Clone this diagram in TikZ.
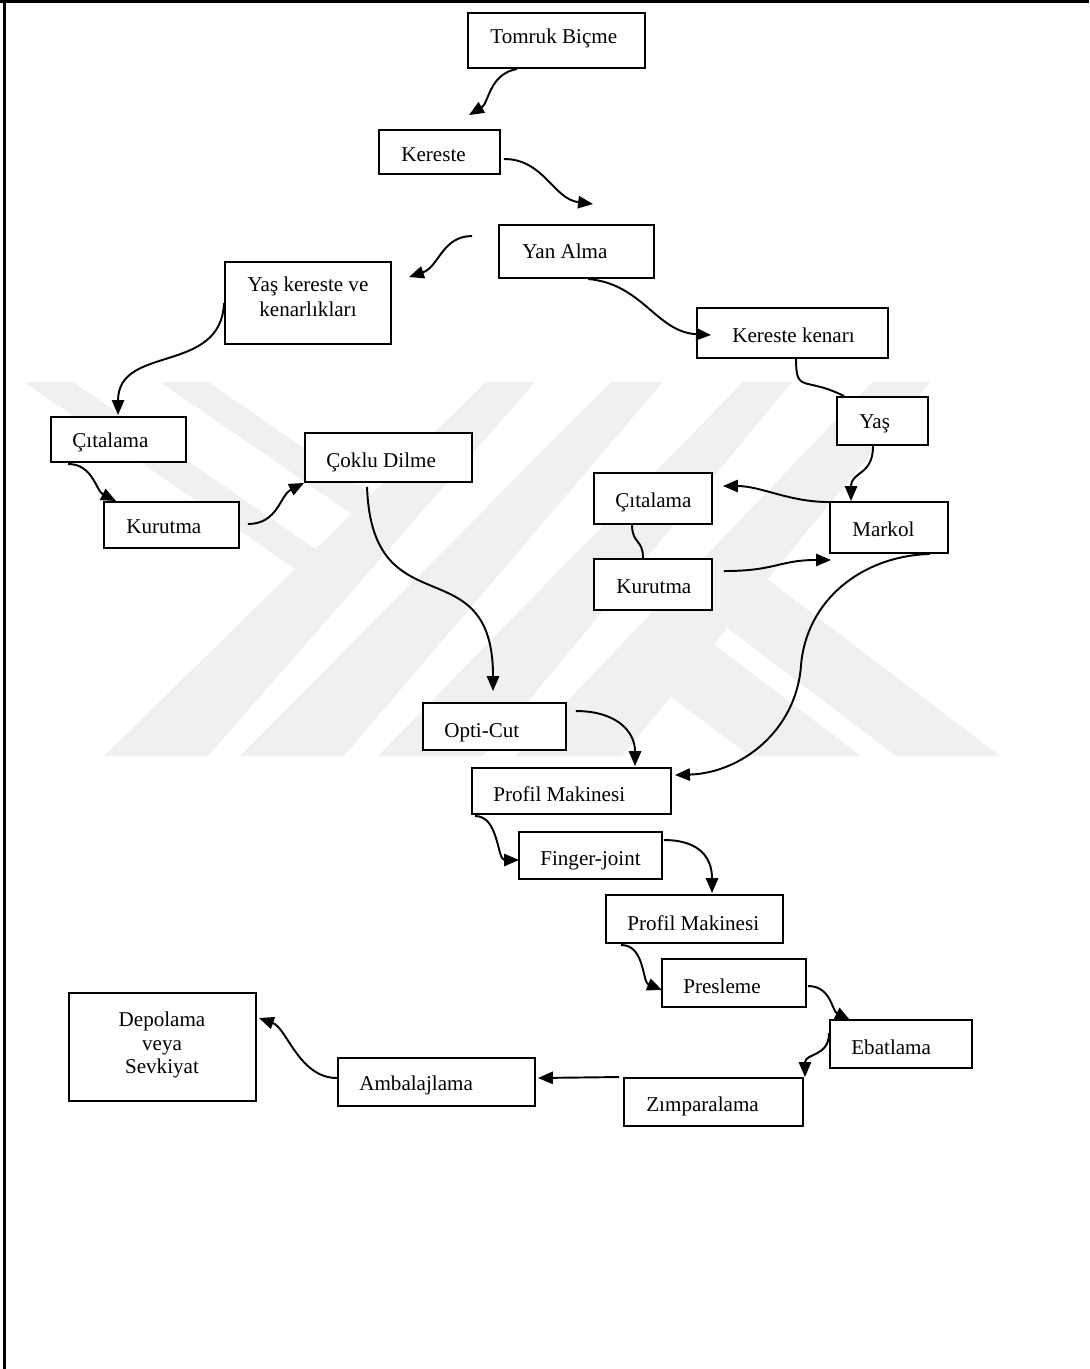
\documentclass[tikz,border=0pt]{standalone}
\usepackage{fontspec}
\setmainfont{Liberation Serif}
\usepackage{tikz}
\usetikzlibrary{calc}
\usetikzlibrary{fit}
\usetikzlibrary{arrows.meta}

\begin{document}
\begin{tikzpicture}[x=0.02cm,y=-0.02cm,
  box/.style={draw,line width=1.1pt,fill=white,inner sep=0pt},
  lbl/.style={anchor=base west,inner sep=0pt,font=\fontsize{12}{14}\selectfont},
  lblc/.style={align=center,inner sep=0pt,font=\fontsize{12}{14}\selectfont},
  arr/.style={line width=1.1pt,-{Triangle[length=8.5pt,width=7pt]}},
  link/.style={line width=1.1pt},
  wmark/.style={fill=black!6}]
\useasboundingbox (0,0) rectangle (1089,1369);

\fill[wmark] (486,382) -- (535,382) -- (208,756) -- (104,756) -- cycle;
\fill[wmark] (611,382) -- (663,382) -- (344,756) -- (240,756) -- cycle;
\fill[wmark] (743,382) -- (792,382) -- (483,756) -- (378,756) -- cycle;
\fill[wmark] (872,382) -- (930,382) -- (622,756) -- (515,756) -- cycle;
\fill[wmark] (24,382) -- (73,382) -- (356,577) -- (307,577) -- cycle;
\fill[wmark] (160,382) -- (208,382) -- (404,517) -- (356,517) -- cycle;
\fill[wmark] (896,756) -- (1000,756) -- (758,572) -- (713,617) -- cycle;
\fill[wmark] (750,756) -- (861,756) -- (704,637) -- (651,682) -- cycle;

\draw[line width=1.5pt] (0,1.3) -- (1089,1.3);
\draw[line width=1.7pt] (4.5,0) -- (4.5,1369);

\node[box,fit={(468,13) (645,68)}] (tomruk) {};
\node[box,fit={(379,130) (500,174)}] (kereste) {};
\node[box,fit={(499,225) (654,278)}] (yanalma) {};
\node[box,fit={(225,262) (391,344)}] (yaskereste) {};
\node[box,fit={(697,308) (888,358)}] (kenar) {};
\node[box,fit={(837,397) (928,445)}] (yas) {};
\node[box,fit={(51,417) (186,462)}] (citalamaL) {};
\node[box,fit={(104,502) (239,548)}] (kurutmaL) {};
\node[box,fit={(305,433) (472,482)}] (coklu) {};
\node[box,fit={(594,473) (712,524)}] (citalamaR) {};
\node[box,fit={(594,559) (712,610)}] (kurutmaR) {};
\node[box,fit={(830,502) (948,553)}] (markol) {};
\node[box,fit={(423,703) (566,750)}] (opticut) {};
\node[box,fit={(472,768) (671,814)}] (profil1) {};
\node[box,fit={(519,832) (662,879)}] (finger) {};
\node[box,fit={(606,895) (783,943)}] (profil2) {};
\node[box,fit={(662,959) (806,1007)}] (presleme) {};
\node[box,fit={(830,1020) (972,1068)}] (ebatlama) {};
\node[box,fit={(624,1078) (803,1126)}] (zimpara) {};
\node[box,fit={(338,1058) (535,1106)}] (ambalaj) {};
\node[box,fit={(69,993) (256,1101)}] (depolama) {};

\node[lbl] (tomrukT) at (490,43) {Tomruk Biçme};
\node[lbl] (keresteT) at (401,161) {Kereste};
\node[lbl] (yanalmaT) at (522,258) {Yan Alma};
\node[lblc] (yaskeresteT) at (308,297) {Yaş kereste ve\\kenarlıkları};
\node[lbl] (kenarT) at (732,342) {Kereste kenarı};
\node[lbl] (yasT) at (859,428) {Yaş};
\node[lbl] (citalamaLT) at (72,447) {Çıtalama};
\node[lbl] (kurutmaLT) at (126,533) {Kurutma};
\node[lbl] (cokluT) at (326,467) {Çoklu Dilme};
\node[lbl] (citalamaRT) at (615,507) {Çıtalama};
\node[lbl] (kurutmaRT) at (616,593) {Kurutma};
\node[lbl] (markolT) at (852,536) {Markol};
\node[lbl] (opticutT) at (444,737) {Opti-Cut};
\node[lbl] (profil1T) at (493,801) {Profil Makinesi};
\node[lbl] (fingerT) at (540,865) {Finger-joint};
\node[lbl] (profil2T) at (627,930) {Profil Makinesi};
\node[lbl] (preslemeT) at (683,993) {Presleme};
\node[lbl] (ebatlamaT) at (851,1054) {Ebatlama};
\node[lbl] (zimparaT) at (646,1111) {Zımparalama};
\node[lbl] (ambalajT) at (359,1090) {Ambalajlama};
\node[lblc,font=\fontsize{12}{13.5}\selectfont] (depolamaT) at (162,1045) {Depolama\\veya\\Sevkiyat};

\draw[arr] ($(tomruk.south west)+(50,0)$) .. controls +(-28,5) and +(20,-12) .. ($(kereste.north west)+(91,-14)$);
\draw[arr] ($(kereste.east)+(3,7)$) .. controls +(40,0) and +(-40,-5) .. ($(yanalma.north west)+(95,-20)$);
\draw[arr] ($(yanalma.north west)+(-26,12)$) .. controls +(-30,0) and +(30,-10) .. ($(yaskereste.north east)+(17,16)$);
\draw[arr] ($(yanalma.south west)+(90,0)$) .. controls +(55,5) and +(-55,-3) .. ($(kenar.west)+(15,2)$);
\draw[arr] (yaskereste.west) .. controls +(-3,72) and +(0,-71) .. ($(citalamaL.north west)+(68,-1)$);
\draw[arr] ($(citalamaL.south west)+(18,1)$) .. controls +(25,0) and +(-20,-10) .. ($(kurutmaL.north west)+(13,0)$);
\draw[arr] ($(kurutmaL.east)+(8,-1)$) .. controls +(30,0) and +(-24,12) .. (coklu.south west);
\draw[arr] ($(coklu.south west)+(63,4)$) .. controls +(5,144) and +(0,-147) .. ($(opticut.north west)+(71,-11)$);
\draw[arr] ($(opticut.north east)+(9,9)$) .. controls +(40,0) and +(0,-35) .. ($(profil1.north west)+(164,-1)$);
\draw[arr] ($(markol.south east)+(-19,0)$) .. controls +(-69,2) and +(5,-65) .. ++(-129,112)
  .. controls +(-5,65) and +(66,-2) .. ($(profil1.north east)+(3,8)$);
\draw[link] ($(kenar.south west)+(100,0)$) .. controls +(0,35) and +(-40,-20) .. ($(yas.north west)+(8,0)$);
\draw[arr] ($(yas.south west)+(37,0)$) .. controls +(0,30) and +(0,-30) .. ($(markol.north west)+(22,0)$);
\draw[arr] ($(markol.north west)+(0,1)$) .. controls +(-40,0) and +(38,0) .. ($(citalamaR.east)+(10,-12.5)$);
\draw[link] ($(citalamaR.south west)+(39,0)$) .. controls +(0,19) and +(0,-19) .. ($(kurutmaR.north west)+(50,0)$);
\draw[arr] ($(kurutmaR.north east)+(11,13)$) .. controls +(52,0) and +(-52,0) .. ($(markol.south west)+(2,6)$);
\draw[arr] ($(profil1.south west)+(4,1)$) .. controls +(24,0) and +(-22,0) .. ($(finger.west)+(1,4.5)$);
\draw[arr] ($(finger.north east)+(1,9)$) .. controls +(37,0) and +(0,-34) .. ($(profil2.north west)+(107,-1)$);
\draw[arr] ($(profil2.south west)+(16,1)$) .. controls +(24,0) and +(-20,-8) .. ($(presleme.west)+(1,7)$);
\draw[arr] ($(presleme.east)+(1,3)$) .. controls +(23,0) and +(-18,-9) .. ($(ebatlama.north west)+(21,1)$);
\draw[arr] ($(ebatlama.north west)+(0,14)$) .. controls +(0,24) and +(0,-24) .. ($(zimpara.north east)+(1,0)$);
\draw[arr] ($(zimpara.north west)+(-4,0)$) -- ($(ambalaj.east)+(2,-4)$);
\draw[arr] ($(ambalaj.west)+(0,-4)$) .. controls +(-38,0) and +(28,10) .. ($(depolama.east)+(2,-29)$);
\end{tikzpicture}
\end{document}
